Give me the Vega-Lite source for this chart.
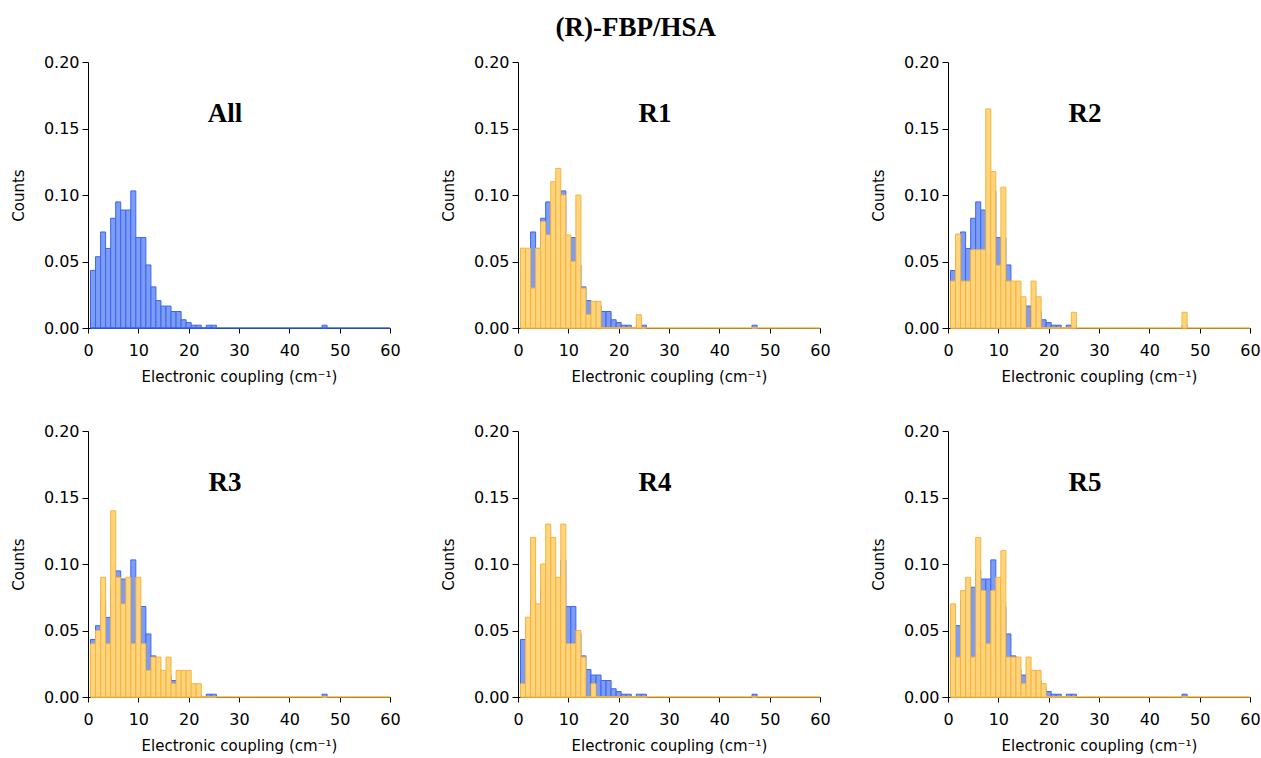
{
  "$schema": "https://vega.github.io/schema/vega-lite/v6.json",
  "padding": {"left": 11, "top": 14, "right": 5, "bottom": 5},
  "background": "white",
  "title": {"text": "(R)-FBP/HSA", "font": "Liberation Serif", "fontSize": 27, "fontWeight": "bold", "color": "#000", "anchor": "middle", "offset": 12},
  "data": {"values": [
    {"lo": 0.5, "hi": 1.5, "All": 0.0433, "R1": 0.06, "R2": 0.0353, "R3": 0.04, "R4": 0.01, "R5": 0.07},
    {"lo": 1.5, "hi": 2.5, "All": 0.0536, "R1": 0.06, "R2": 0.0706, "R3": 0.05, "R4": 0.06, "R5": 0.03},
    {"lo": 2.5, "hi": 3.5, "All": 0.0722, "R1": 0.03, "R2": 0.0353, "R3": 0.09, "R4": 0.12, "R5": 0.08},
    {"lo": 3.5, "hi": 4.5, "All": 0.0598, "R1": 0.06, "R2": 0.0353, "R3": 0.04, "R4": 0.07, "R5": 0.09},
    {"lo": 4.5, "hi": 5.5, "All": 0.0825, "R1": 0.08, "R2": 0.0588, "R3": 0.14, "R4": 0.10, "R5": 0.03},
    {"lo": 5.5, "hi": 6.5, "All": 0.0948, "R1": 0.07, "R2": 0.0588, "R3": 0.09, "R4": 0.13, "R5": 0.12},
    {"lo": 6.5, "hi": 7.5, "All": 0.0887, "R1": 0.11, "R2": 0.0588, "R3": 0.07, "R4": 0.12, "R5": 0.08},
    {"lo": 7.5, "hi": 8.5, "All": 0.0887, "R1": 0.12, "R2": 0.1647, "R3": 0.09, "R4": 0.09, "R5": 0.04},
    {"lo": 8.5, "hi": 9.5, "All": 0.1031, "R1": 0.10, "R2": 0.1176, "R3": 0.04, "R4": 0.13, "R5": 0.08},
    {"lo": 9.5, "hi": 10.5, "All": 0.0680, "R1": 0.07, "R2": 0.0471, "R3": 0.09, "R4": 0.04, "R5": 0.09},
    {"lo": 10.5, "hi": 11.5, "All": 0.0680, "R1": 0.05, "R2": 0.1059, "R3": 0.04, "R4": 0.04, "R5": 0.11},
    {"lo": 11.5, "hi": 12.5, "All": 0.0474, "R1": 0.10, "R2": 0.0353, "R3": 0.02, "R4": 0.05, "R5": 0.03},
    {"lo": 12.5, "hi": 13.5, "All": 0.0309, "R1": 0.03, "R2": 0.0353, "R3": 0.03, "R4": 0.03, "R5": 0.03},
    {"lo": 13.5, "hi": 14.5, "All": 0.0206, "R1": 0.01, "R2": 0.0353, "R3": 0.03, "R4": 0, "R5": 0.03},
    {"lo": 14.5, "hi": 15.5, "All": 0.0165, "R1": 0.02, "R2": 0.0235, "R3": 0.02, "R4": 0.01, "R5": 0.01},
    {"lo": 15.5, "hi": 16.5, "All": 0.0165, "R1": 0.02, "R2": 0, "R3": 0.03, "R4": 0, "R5": 0.03},
    {"lo": 16.5, "hi": 17.5, "All": 0.0124, "R1": 0, "R2": 0.0353, "R3": 0.01, "R4": 0, "R5": 0.02},
    {"lo": 17.5, "hi": 18.5, "All": 0.0124, "R1": 0, "R2": 0.0235, "R3": 0.02, "R4": 0, "R5": 0.02},
    {"lo": 18.5, "hi": 19.5, "All": 0.0062, "R1": 0, "R2": 0, "R3": 0.02, "R4": 0, "R5": 0.01},
    {"lo": 19.5, "hi": 20.5, "All": 0.0041, "R1": 0, "R2": 0, "R3": 0.02, "R4": 0, "R5": 0},
    {"lo": 20.5, "hi": 21.5, "All": 0.0021, "R1": 0, "R2": 0, "R3": 0.01, "R4": 0, "R5": 0},
    {"lo": 21.5, "hi": 22.5, "All": 0.0021, "R1": 0, "R2": 0, "R3": 0.01, "R4": 0, "R5": 0},
    {"lo": 22.5, "hi": 23.5, "All": 0, "R1": 0, "R2": 0, "R3": 0, "R4": 0, "R5": 0},
    {"lo": 23.5, "hi": 24.5, "All": 0.0021, "R1": 0.01, "R2": 0, "R3": 0, "R4": 0, "R5": 0},
    {"lo": 24.5, "hi": 25.5, "All": 0.0021, "R1": 0, "R2": 0.0118, "R3": 0, "R4": 0, "R5": 0},
    {"lo": 46.5, "hi": 47.5, "All": 0.0021, "R1": 0, "R2": 0.0118, "R3": 0, "R4": 0, "R5": 0}
  ]},
  "transform": [{"fold": ["All", "R1", "R2", "R3", "R4", "R5"], "as": ["p", "r"]}],
  "columns": 3,
  "spacing": {"row": 103, "column": 128},
  "bounds": "flush",
  "concat": [
    {
      "transform": [{"filter": "datum.p === 'All'"}],
      "width": 302, "height": 266,
      "encoding": {
        "x": {"type": "quantitative", "scale": {"domain": [0, 60], "nice": false}, "axis": {"values": [0, 10, 20, 30, 40, 50, 60], "format": "d", "title": "Electronic coupling (cm⁻¹)"}},
        "y": {"type": "quantitative", "scale": {"domain": [0, 0.2], "nice": false}, "axis": {"values": [0, 0.05, 0.1, 0.15, 0.2], "format": ".2f", "title": "Counts"}}
      },
      "layer": [
        {"mark": {"type": "bar", "fill": "#7d9df4", "stroke": "#3a66f2", "strokeWidth": 1}, "encoding": {"x": {"field": "lo"}, "x2": {"field": "hi"}, "y": {"field": "All"}, "y2": {"datum": 0}}},
        {"transform": [{"filter": "datum.lo === 0.5"}], "mark": {"type": "rule", "strokeWidth": 1.5, "color": "#3a66f2"}, "encoding": {"x": {"datum": 0.5}, "x2": {"datum": 60}, "y": {"datum": 0}}},
        {"transform": [{"filter": "datum.lo === 0.5"}], "mark": {"type": "text", "font": "Liberation Serif", "fontSize": 27, "fontWeight": "bold", "color": "#000", "align": "center", "baseline": "alphabetic"}, "encoding": {"x": {"datum": 27.2}, "y": {"datum": 0.155}, "text": {"field": "p"}}}
      ]
    },
    {
      "transform": [{"filter": "datum.p === 'R1'"}],
      "width": 302, "height": 266,
      "encoding": {
        "x": {"type": "quantitative", "scale": {"domain": [0, 60], "nice": false}, "axis": {"values": [0, 10, 20, 30, 40, 50, 60], "format": "d", "title": "Electronic coupling (cm⁻¹)"}},
        "y": {"type": "quantitative", "scale": {"domain": [0, 0.2], "nice": false}, "axis": {"values": [0, 0.05, 0.1, 0.15, 0.2], "format": ".2f", "title": "Counts"}}
      },
      "layer": [
        {"mark": {"type": "bar", "fill": "#7d9df4", "stroke": "#3a66f2", "strokeWidth": 1}, "encoding": {"x": {"field": "lo"}, "x2": {"field": "hi"}, "y": {"field": "All"}, "y2": {"datum": 0}}},
        {"transform": [{"filter": "datum.lo === 0.5"}], "mark": {"type": "rule", "strokeWidth": 1.5, "color": "#f7b43a"}, "encoding": {"x": {"datum": 0.5}, "x2": {"datum": 60}, "y": {"datum": 0}}},
        {"mark": {"type": "bar", "fill": "#ffd47c", "stroke": "#f7b43a", "strokeWidth": 1}, "encoding": {"x": {"field": "lo"}, "x2": {"field": "hi"}, "y": {"field": "r"}, "y2": {"datum": 0}}},
        {"transform": [{"filter": "datum.lo === 0.5"}], "mark": {"type": "text", "font": "Liberation Serif", "fontSize": 27, "fontWeight": "bold", "color": "#000", "align": "center", "baseline": "alphabetic"}, "encoding": {"x": {"datum": 27.2}, "y": {"datum": 0.155}, "text": {"field": "p"}}}
      ]
    },
    {
      "transform": [{"filter": "datum.p === 'R2'"}],
      "width": 302, "height": 266,
      "encoding": {
        "x": {"type": "quantitative", "scale": {"domain": [0, 60], "nice": false}, "axis": {"values": [0, 10, 20, 30, 40, 50, 60], "format": "d", "title": "Electronic coupling (cm⁻¹)"}},
        "y": {"type": "quantitative", "scale": {"domain": [0, 0.2], "nice": false}, "axis": {"values": [0, 0.05, 0.1, 0.15, 0.2], "format": ".2f", "title": "Counts"}}
      },
      "layer": [
        {"mark": {"type": "bar", "fill": "#7d9df4", "stroke": "#3a66f2", "strokeWidth": 1}, "encoding": {"x": {"field": "lo"}, "x2": {"field": "hi"}, "y": {"field": "All"}, "y2": {"datum": 0}}},
        {"transform": [{"filter": "datum.lo === 0.5"}], "mark": {"type": "rule", "strokeWidth": 1.5, "color": "#f7b43a"}, "encoding": {"x": {"datum": 0.5}, "x2": {"datum": 60}, "y": {"datum": 0}}},
        {"mark": {"type": "bar", "fill": "#ffd47c", "stroke": "#f7b43a", "strokeWidth": 1}, "encoding": {"x": {"field": "lo"}, "x2": {"field": "hi"}, "y": {"field": "r"}, "y2": {"datum": 0}}},
        {"transform": [{"filter": "datum.lo === 0.5"}], "mark": {"type": "text", "font": "Liberation Serif", "fontSize": 27, "fontWeight": "bold", "color": "#000", "align": "center", "baseline": "alphabetic"}, "encoding": {"x": {"datum": 27.2}, "y": {"datum": 0.155}, "text": {"field": "p"}}}
      ]
    },
    {
      "transform": [{"filter": "datum.p === 'R3'"}],
      "width": 302, "height": 266,
      "encoding": {
        "x": {"type": "quantitative", "scale": {"domain": [0, 60], "nice": false}, "axis": {"values": [0, 10, 20, 30, 40, 50, 60], "format": "d", "title": "Electronic coupling (cm⁻¹)"}},
        "y": {"type": "quantitative", "scale": {"domain": [0, 0.2], "nice": false}, "axis": {"values": [0, 0.05, 0.1, 0.15, 0.2], "format": ".2f", "title": "Counts"}}
      },
      "layer": [
        {"mark": {"type": "bar", "fill": "#7d9df4", "stroke": "#3a66f2", "strokeWidth": 1}, "encoding": {"x": {"field": "lo"}, "x2": {"field": "hi"}, "y": {"field": "All"}, "y2": {"datum": 0}}},
        {"transform": [{"filter": "datum.lo === 0.5"}], "mark": {"type": "rule", "strokeWidth": 1.5, "color": "#f7b43a"}, "encoding": {"x": {"datum": 0.5}, "x2": {"datum": 60}, "y": {"datum": 0}}},
        {"mark": {"type": "bar", "fill": "#ffd47c", "stroke": "#f7b43a", "strokeWidth": 1}, "encoding": {"x": {"field": "lo"}, "x2": {"field": "hi"}, "y": {"field": "r"}, "y2": {"datum": 0}}},
        {"transform": [{"filter": "datum.lo === 0.5"}], "mark": {"type": "text", "font": "Liberation Serif", "fontSize": 27, "fontWeight": "bold", "color": "#000", "align": "center", "baseline": "alphabetic"}, "encoding": {"x": {"datum": 27.2}, "y": {"datum": 0.155}, "text": {"field": "p"}}}
      ]
    },
    {
      "transform": [{"filter": "datum.p === 'R4'"}],
      "width": 302, "height": 266,
      "encoding": {
        "x": {"type": "quantitative", "scale": {"domain": [0, 60], "nice": false}, "axis": {"values": [0, 10, 20, 30, 40, 50, 60], "format": "d", "title": "Electronic coupling (cm⁻¹)"}},
        "y": {"type": "quantitative", "scale": {"domain": [0, 0.2], "nice": false}, "axis": {"values": [0, 0.05, 0.1, 0.15, 0.2], "format": ".2f", "title": "Counts"}}
      },
      "layer": [
        {"mark": {"type": "bar", "fill": "#7d9df4", "stroke": "#3a66f2", "strokeWidth": 1}, "encoding": {"x": {"field": "lo"}, "x2": {"field": "hi"}, "y": {"field": "All"}, "y2": {"datum": 0}}},
        {"transform": [{"filter": "datum.lo === 0.5"}], "mark": {"type": "rule", "strokeWidth": 1.5, "color": "#f7b43a"}, "encoding": {"x": {"datum": 0.5}, "x2": {"datum": 60}, "y": {"datum": 0}}},
        {"mark": {"type": "bar", "fill": "#ffd47c", "stroke": "#f7b43a", "strokeWidth": 1}, "encoding": {"x": {"field": "lo"}, "x2": {"field": "hi"}, "y": {"field": "r"}, "y2": {"datum": 0}}},
        {"transform": [{"filter": "datum.lo === 0.5"}], "mark": {"type": "text", "font": "Liberation Serif", "fontSize": 27, "fontWeight": "bold", "color": "#000", "align": "center", "baseline": "alphabetic"}, "encoding": {"x": {"datum": 27.2}, "y": {"datum": 0.155}, "text": {"field": "p"}}}
      ]
    },
    {
      "transform": [{"filter": "datum.p === 'R5'"}],
      "width": 302, "height": 266,
      "encoding": {
        "x": {"type": "quantitative", "scale": {"domain": [0, 60], "nice": false}, "axis": {"values": [0, 10, 20, 30, 40, 50, 60], "format": "d", "title": "Electronic coupling (cm⁻¹)"}},
        "y": {"type": "quantitative", "scale": {"domain": [0, 0.2], "nice": false}, "axis": {"values": [0, 0.05, 0.1, 0.15, 0.2], "format": ".2f", "title": "Counts"}}
      },
      "layer": [
        {"mark": {"type": "bar", "fill": "#7d9df4", "stroke": "#3a66f2", "strokeWidth": 1}, "encoding": {"x": {"field": "lo"}, "x2": {"field": "hi"}, "y": {"field": "All"}, "y2": {"datum": 0}}},
        {"transform": [{"filter": "datum.lo === 0.5"}], "mark": {"type": "rule", "strokeWidth": 1.5, "color": "#f7b43a"}, "encoding": {"x": {"datum": 0.5}, "x2": {"datum": 60}, "y": {"datum": 0}}},
        {"mark": {"type": "bar", "fill": "#ffd47c", "stroke": "#f7b43a", "strokeWidth": 1}, "encoding": {"x": {"field": "lo"}, "x2": {"field": "hi"}, "y": {"field": "r"}, "y2": {"datum": 0}}},
        {"transform": [{"filter": "datum.lo === 0.5"}], "mark": {"type": "text", "font": "Liberation Serif", "fontSize": 27, "fontWeight": "bold", "color": "#000", "align": "center", "baseline": "alphabetic"}, "encoding": {"x": {"datum": 27.2}, "y": {"datum": 0.155}, "text": {"field": "p"}}}
      ]
    }
  ],
  "config": {
    "view": {"stroke": null},
    "axis": {
      "grid": false,
      "domainColor": "#000",
      "tickColor": "#000",
      "tickSize": 5,
      "labelFont": "DejaVu Sans",
      "labelFontSize": 16,
      "labelColor": "#000",
      "titleFont": "DejaVu Sans",
      "titleFontSize": 15,
      "titleFontWeight": "normal",
      "titleColor": "#000"
    },
    "axisX": {"labelPadding": 9, "titlePadding": 11, "labelFlush": false},
    "axisY": {"labelPadding": 3, "titlePadding": 17, "tickSize": 6}
  }
}
